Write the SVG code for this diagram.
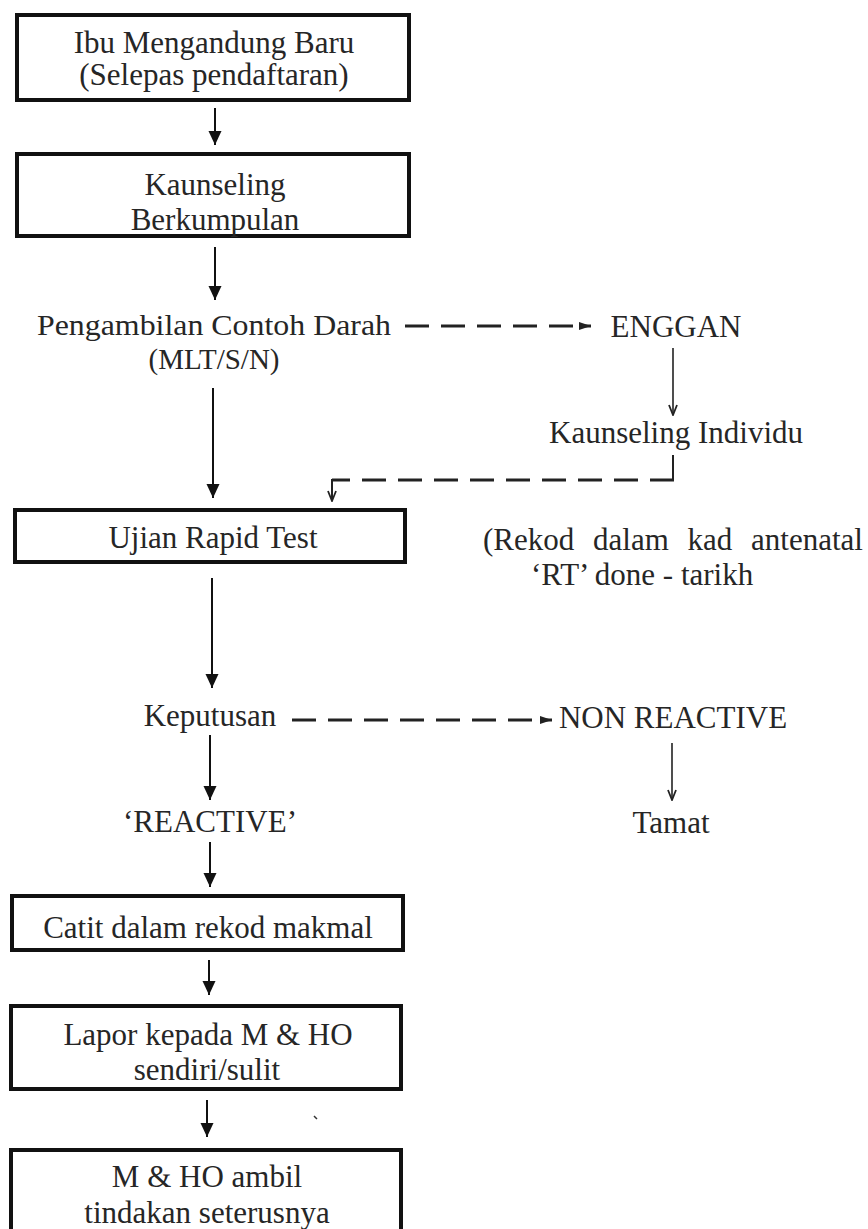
<svg xmlns="http://www.w3.org/2000/svg" width="868" height="1229" viewBox="0 0 868 1229">
<style>
.t text{font-size:31px;fill:#262626}
.c{text-anchor:middle}
.box{fill:#fff;stroke:#111;stroke-width:4}
.ar{stroke:#111;stroke-width:2;fill:none}
.thin{stroke:#222;stroke-width:1.6;fill:none}
.dash{stroke:#222;stroke-width:3;fill:none;stroke-dasharray:24 12}
</style>
<defs>
<marker id="solid" viewBox="0 0 14 14" markerWidth="14" markerHeight="14" refX="14" refY="7" orient="auto" markerUnits="userSpaceOnUse">
<path d="M0,0.5 L14,7 L0,13.5 z" fill="#111"/>
</marker>
<marker id="barb" viewBox="0 0 12 10" markerWidth="12" markerHeight="10" refX="11" refY="5" orient="auto" markerUnits="userSpaceOnUse">
<path d="M1,1 L11,5 L1,9" fill="none" stroke="#222" stroke-width="1.8"/>
</marker>
<marker id="head" viewBox="0 0 12 10" markerWidth="12" markerHeight="10" refX="12" refY="5" orient="auto" markerUnits="userSpaceOnUse">
<path d="M0,1 L12,5 L0,9 z" fill="#222"/>
</marker>
</defs>
<rect width="868" height="1229" fill="#fff"/>

<g id="connectors">
<line class="ar" x1="215" y1="108" x2="215" y2="145" marker-end="url(#solid)"/>
<line class="ar" x1="215" y1="247" x2="215" y2="300" marker-end="url(#solid)"/>
<line class="ar" x1="213" y1="388" x2="213" y2="498" marker-end="url(#solid)"/>
<line class="ar" x1="212" y1="578" x2="212" y2="688" marker-end="url(#solid)"/>
<line class="ar" x1="210" y1="735" x2="210" y2="800" marker-end="url(#solid)"/>
<line class="ar" x1="210" y1="842" x2="210" y2="887" marker-end="url(#solid)"/>
<line class="ar" x1="209" y1="960" x2="209" y2="995" marker-end="url(#solid)"/>
<line class="ar" x1="207" y1="1100" x2="207" y2="1137" marker-end="url(#solid)"/>
<line class="thin" x1="673" y1="348" x2="673" y2="415" marker-end="url(#barb)"/>
<line class="thin" x1="672" y1="743" x2="672" y2="800" marker-end="url(#barb)"/>
<line class="dash" x1="405" y1="326" x2="591" y2="326" marker-end="url(#head)"/>
<line class="dash" x1="292" y1="720" x2="552" y2="720" marker-end="url(#head)"/>
<path d="M673,455 V480" stroke="#222" stroke-width="2" fill="none"/>
<line class="dash" x1="674" y1="480" x2="332" y2="480" stroke-dasharray="26 10"/>
<path d="M341,480 H332 V501" stroke="#222" stroke-width="2" fill="none" marker-end="url(#barb)"/>
<path d="M314,1116 L317,1119" stroke="#333" stroke-width="1.5"/>
</g>

<g class="t" font-family="Liberation Serif, Times New Roman, DejaVu Serif, serif">
<g id="n1">
<rect class="box" x="17" y="15" width="392" height="85"/>
<text class="c" x="214" y="53">Ibu Mengandung Baru</text>
<text class="c" x="214" y="85">(Selepas pendaftaran)</text>
</g>
<g id="n2">
<rect class="box" x="17" y="154" width="392" height="82"/>
<text class="c" x="215" y="195">Kaunseling</text>
<text class="c" x="215" y="230">Berkumpulan</text>
</g>
<g id="n3">
<text class="c" x="214" y="335" style="font-size:29px" textLength="354" lengthAdjust="spacingAndGlyphs">Pengambilan Contoh Darah</text>
<text class="c" x="214" y="369" style="font-size:29px">(MLT/S/N)</text>
</g>
<g id="n4">
<text class="c" x="676" y="337">ENGGAN</text>
</g>
<g id="n5">
<text class="c" x="676" y="443">Kaunseling Individu</text>
</g>
<g id="n6">
<rect class="box" x="15" y="510" width="390" height="52"/>
<text class="c" x="213" y="548">Ujian Rapid Test</text>
</g>
<g id="n7">
<text x="483" y="550" word-spacing="11">(Rekod dalam kad antenatal</text>
<text x="531" y="585">‘RT’ done - tarikh</text>
</g>
<g id="n8">
<text class="c" x="210" y="726">Keputusan</text>
</g>
<g id="n9">
<text class="c" x="673" y="728">NON REACTIVE</text>
</g>
<g id="n10">
<text class="c" x="210" y="832">‘REACTIVE’</text>
</g>
<g id="n11">
<text class="c" x="671" y="833">Tamat</text>
</g>
<g id="n12">
<rect class="box" x="12" y="896" width="391" height="54"/>
<text class="c" x="208" y="938">Catit dalam rekod makmal</text>
</g>
<g id="n13">
<rect class="box" x="11" y="1006" width="390" height="83"/>
<text class="c" x="208" y="1045">Lapor kepada M &amp; HO</text>
<text class="c" x="207" y="1080">sendiri/sulit</text>
</g>
<g id="n14">
<rect class="box" x="11" y="1150" width="390" height="100"/>
<text class="c" x="207" y="1187">M &amp; HO ambil</text>
<text class="c" x="207" y="1223">tindakan seterusnya</text>
</g>
</g>
</svg>
